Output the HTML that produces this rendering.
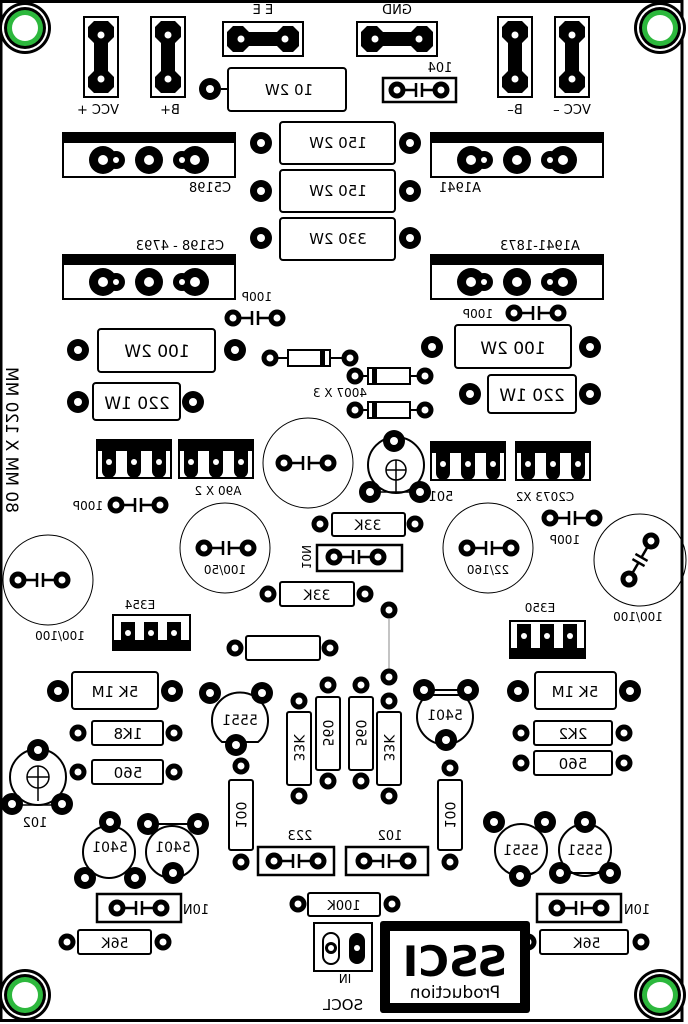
<!DOCTYPE html>
<html><head><meta charset="utf-8"><style>
html,body{margin:0;padding:0;background:#fff}
svg{display:block}
text{font-family:"DejaVu Sans","Liberation Sans",sans-serif;fill:#000}
</style></head><body>
<svg width="688" height="1024" viewBox="0 0 688 1024" xmlns="http://www.w3.org/2000/svg">
<defs>
<g id="P"><circle r="11" fill="#000"/><circle r="4" fill="#fff"/></g>
<g id="p"><circle r="8.5" fill="#000"/><circle r="3.5" fill="#fff"/></g>
<g id="H"><circle r="26" fill="#000"/><circle r="23" fill="#fff"/><circle r="21" fill="#000"/><circle r="18" fill="#2db83d"/><circle r="13" fill="#fff"/></g>
<g id="T"><rect x="-37" y="-19" width="74" height="38" fill="#fff" stroke="#000" stroke-width="2"/><rect x="-37" y="-19" width="74" height="11" fill="#000"/>
<path d="M-32,-10h14v22a7,7 0 0 1 -14,0z M-7,-10h14v22a7,7 0 0 1 -14,0z M18,-10h14v22a7,7 0 0 1 -14,0z" fill="#000"/>
<circle cx="-25" cy="3" r="3" fill="#fff"/><circle cx="0" cy="3" r="3" fill="#fff"/><circle cx="25" cy="3" r="3" fill="#fff"/></g>
<g id="J"><rect x="-17" y="-40" width="34" height="80" fill="#fff" stroke="#000" stroke-width="2"/><path d="M-13,-30 l6,-6 h14 l6,6 v10 l-6,6 v28 l6,6 v10 l-6,6 h-14 l-6,-6 v-10 l6,-6 v-28 l-6,-6z" fill="#000"/><circle cy="-22" r="3.5" fill="#fff"/><circle cy="22" r="3.5" fill="#fff"/></g>
<g id="JH"><rect x="-40" y="-17" width="80" height="34" fill="#fff" stroke="#000" stroke-width="2"/><path d="M-30,-13 l-6,6 v14 l6,6 h10 l6,-6 h28 l6,6 h10 l6,-6 v-14 l-6,-6 h-10 l-6,6 h-28 l-6,-6z" fill="#000"/><circle cx="-22" r="3.5" fill="#fff"/><circle cx="22" r="3.5" fill="#fff"/></g>
<g id="TO"><rect x="-86" y="-22" width="172" height="44" fill="#fff" stroke="#000" stroke-width="2"/><rect x="-86" y="-22" width="172" height="10" fill="#000"/>
<circle cx="-46" cy="5" r="14" fill="#000"/><circle cx="-33" cy="5" r="9" fill="#000"/><circle cx="-46" cy="5" r="5" fill="#fff"/><circle cx="-33" cy="5" r="3" fill="#fff"/>
<circle cx="0" cy="5" r="14" fill="#000"/><circle cx="0" cy="5" r="5" fill="#fff"/>
<circle cx="46" cy="5" r="14" fill="#000"/><circle cx="33" cy="5" r="9" fill="#000"/><circle cx="46" cy="5" r="5" fill="#fff"/><circle cx="33" cy="5" r="3" fill="#fff"/></g>
<g id="C"><use href="#p" x="-22"/><use href="#p" x="22"/><path d="M-14,0h11M3,0h11M-3,-7v14M3,-7v14" stroke="#000" stroke-width="2.5" fill="none"/></g>
</defs>

<rect x="1" y="1.5" width="681" height="1019" fill="none" stroke="#000" stroke-width="3"/>

<use href="#H" x="25" y="28"/><use href="#H" x="660" y="28"/><use href="#H" x="25" y="995"/><use href="#H" x="660" y="995"/>

<use href="#J" x="101" y="57"/><use href="#J" x="168" y="57"/><use href="#J" x="515" y="57"/><use href="#J" x="572" y="57"/>
<use href="#JH" x="263" y="39"/><use href="#JH" x="397" y="39"/>
<g font-size="13" text-anchor="middle">
<g transform="translate(98,114) scale(-1,1)"><text>VCC +</text></g>
<g transform="translate(170,114) scale(-1,1)"><text>B+</text></g>
<g transform="translate(515,114) scale(-1,1)"><text>B–</text></g>
<g transform="translate(572,114) scale(-1,1)"><text>VCC –</text></g>
<g transform="translate(263,14) scale(-1,1)"><text>E E</text></g>
<g transform="translate(397,14) scale(-1,1)"><text>GND</text></g>
<g transform="translate(440,72) scale(-1,1)"><text>104</text></g>
</g>

<use href="#P" x="210" y="89"/><path d="M221,89h7" stroke="#000" stroke-width="2"/>
<rect x="228" y="68" width="118" height="43" rx="3" fill="#fff" stroke="#000" stroke-width="2"/>
<g font-size="15" text-anchor="middle" transform="translate(289,95) scale(-1,1)"><text>10 2W</text></g>
<rect x="383" y="78" width="73" height="24" fill="#fff" stroke="#000" stroke-width="2.5"/>
<use href="#C" x="419" y="90"/>

<use href="#TO" x="149" y="155"/><use href="#TO" x="517" y="155"/>
<use href="#TO" x="149" y="277"/><use href="#TO" x="517" y="277"/>
<g font-size="13" text-anchor="middle">
<g transform="translate(210,192) scale(-1,1)"><text>C5198</text></g>
<g transform="translate(460,192) scale(-1,1)"><text>A1941</text></g>
<g transform="translate(180,250) scale(-1,1)"><text>C5198 - 4793</text></g>
<g transform="translate(540,250) scale(-1,1)"><text>A1941-1873</text></g>
</g>

<use href="#P" x="261" y="143"/><use href="#P" x="410" y="143"/>
<rect x="280" y="122" width="115" height="42" rx="3" fill="#fff" stroke="#000" stroke-width="2"/>
<use href="#P" x="261" y="191"/><use href="#P" x="410" y="191"/>
<rect x="280" y="170" width="115" height="42" rx="3" fill="#fff" stroke="#000" stroke-width="2"/>
<use href="#P" x="261" y="238"/><use href="#P" x="410" y="238"/>
<rect x="280" y="218" width="115" height="42" rx="3" fill="#fff" stroke="#000" stroke-width="2"/>
<g font-size="15" text-anchor="middle">
<g transform="translate(338,148) scale(-1,1)"><text>150 2W</text></g>
<g transform="translate(338,196) scale(-1,1)"><text>150 2W</text></g>
<g transform="translate(338,244) scale(-1,1)"><text>330 2W</text></g>
</g>

<g font-size="12" text-anchor="middle">
<use href="#C" x="255" y="318"/><g transform="translate(257,301) scale(-1,1)"><text>100P</text></g>
<use href="#C" x="536" y="313"/><g transform="translate(478,318) scale(-1,1)"><text>100P</text></g>
<use href="#C" x="138" y="505"/><g transform="translate(88,510) scale(-1,1)"><text>100P</text></g>
<use href="#C" x="572" y="518"/><g transform="translate(565,544) scale(-1,1)"><text>100P</text></g>
</g>

<use href="#P" x="78" y="350"/><use href="#P" x="235" y="350"/>
<rect x="98" y="329" width="117" height="43" rx="3" fill="#fff" stroke="#000" stroke-width="2"/>
<g font-size="17" text-anchor="middle" transform="translate(157,357) scale(-1,1)"><text>100 2W</text></g>
<use href="#P" x="432" y="347"/><use href="#P" x="590" y="347"/>
<rect x="455" y="325" width="116" height="43" rx="3" fill="#fff" stroke="#000" stroke-width="2"/>
<g font-size="17" text-anchor="middle" transform="translate(513,354) scale(-1,1)"><text>100 2W</text></g>
<use href="#P" x="78" y="402"/><use href="#P" x="193" y="402"/>
<rect x="93" y="383" width="87" height="37" rx="3" fill="#fff" stroke="#000" stroke-width="2"/>
<g font-size="17" text-anchor="middle" transform="translate(137,409) scale(-1,1)"><text>220 1W</text></g>
<use href="#P" x="470" y="394"/><use href="#P" x="590" y="394"/>
<rect x="488" y="375" width="88" height="38" rx="3" fill="#fff" stroke="#000" stroke-width="2"/>
<g font-size="17" text-anchor="middle" transform="translate(532,401) scale(-1,1)"><text>220 1W</text></g>

<g stroke="#000" stroke-width="2" fill="#fff">
<path d="M270,358h80M355,376h70M355,410h70"/>
<rect x="288" y="350" width="42" height="16"/><rect x="368" y="368" width="42" height="16"/><rect x="368" y="402" width="42" height="16"/>
</g>
<rect x="320" y="350" width="5" height="16" fill="#000"/><rect x="372" y="368" width="5" height="16" fill="#000"/><rect x="372" y="402" width="5" height="16" fill="#000"/>
<use href="#p" x="270" y="358"/><use href="#p" x="350" y="358"/><use href="#p" x="355" y="376"/><use href="#p" x="425" y="376"/><use href="#p" x="355" y="410"/><use href="#p" x="425" y="410"/>
<g font-size="12" text-anchor="middle" transform="translate(340,397) scale(-1,1)"><text>4007 X 3</text></g>

<g font-size="17" text-anchor="middle" transform="translate(6,440) rotate(90) scale(-1,1)"><text>80 MM X 120 MM</text></g>

<use href="#T" x="134" y="459"/><use href="#T" x="216" y="459"/><use href="#T" x="468" y="461"/><use href="#T" x="553" y="461"/>
<g font-size="12" text-anchor="middle">
<g transform="translate(218,495) scale(-1,1)"><text>A90 X 2</text></g>
<g transform="translate(545,501) scale(-1,1)"><text>C2073 X2</text></g>
</g>

<g fill="none" stroke="#000" stroke-width="1">
<circle cx="308" cy="463" r="45"/><circle cx="225" cy="548" r="45"/><circle cx="488" cy="548" r="45"/><circle cx="48" cy="580" r="45"/><circle cx="640" cy="560" r="46"/>
</g>
<use href="#C" x="306" y="463"/><use href="#C" x="226" y="548"/><use href="#C" x="489" y="548"/><use href="#C" x="40" y="580"/>
<g transform="translate(640,560) rotate(-60)"><use href="#C" x="0" y="0"/></g>
<g font-size="12" text-anchor="middle">
<g transform="translate(225,574) scale(-1,1)"><text>100/50</text></g>
<g transform="translate(488,574) scale(-1,1)"><text>22/160</text></g>
<g transform="translate(60,640) scale(-1,1)"><text>100/100</text></g>
<g transform="translate(638,621) scale(-1,1)"><text>100/100</text></g>
</g>

<circle cx="396" cy="465" r="28" fill="none" stroke="#000" stroke-width="2"/>
<circle cx="396" cy="470" r="10" fill="none" stroke="#000" stroke-width="1.5"/>
<path d="M386,470h20M396,460v32M372,492h48" stroke="#000" stroke-width="1.5"/>
<use href="#P" x="394" y="441"/><use href="#P" x="370" y="492"/><use href="#P" x="420" y="492"/>
<g font-size="13" text-anchor="middle" transform="translate(441,501) scale(-1,1)"><text>501</text></g>

<use href="#p" x="320" y="524"/><use href="#p" x="415" y="524"/>
<rect x="332" y="513" width="73" height="23" rx="2" fill="#fff" stroke="#000" stroke-width="2"/>
<g font-size="14" text-anchor="middle" transform="translate(368,530) scale(-1,1)"><text>33K</text></g>
<rect x="317" y="545" width="85" height="26" fill="#fff" stroke="#000" stroke-width="2.5"/>
<use href="#C" x="356" y="557"/>
<g font-size="12" text-anchor="middle" transform="translate(302,557) rotate(90) scale(-1,1)"><text>10N</text></g>
<use href="#p" x="268" y="594"/><use href="#p" x="365" y="594"/>
<rect x="280" y="582" width="74" height="24" rx="2" fill="#fff" stroke="#000" stroke-width="2"/>
<g font-size="14" text-anchor="middle" transform="translate(317,600) scale(-1,1)"><text>33K</text></g>
<use href="#p" x="389" y="610"/><path d="M389,618V675" stroke="#888" stroke-width="1"/>
<use href="#p" x="235" y="648"/><use href="#p" x="330" y="648"/>
<rect x="246" y="636" width="74" height="24" rx="2" fill="#fff" stroke="#000" stroke-width="2"/>

<g font-size="12" text-anchor="middle">
<g transform="translate(140,609) scale(-1,1)"><text>E354</text></g>
<g transform="translate(540,612) scale(-1,1)"><text>E350</text></g>
</g>
<rect x="113" y="615" width="77" height="35" fill="#fff" stroke="#000" stroke-width="2"/><rect x="113" y="640" width="77" height="10" fill="#000"/>
<path d="M121,622h14v26h-14z M144,622h14v26h-14z M167,622h14v26h-14z" fill="#000"/><circle cx="128" cy="633" r="3" fill="#fff"/><circle cx="151" cy="633" r="3" fill="#fff"/><circle cx="174" cy="633" r="3" fill="#fff"/>
<rect x="510" y="621" width="75" height="37" fill="#fff" stroke="#000" stroke-width="2"/><rect x="510" y="648" width="75" height="10" fill="#000"/>
<path d="M517,624h14v28h-14z M540,624h14v28h-14z M563,624h14v28h-14z" fill="#000"/><circle cx="524" cy="636" r="3" fill="#fff"/><circle cx="547" cy="636" r="3" fill="#fff"/><circle cx="570" cy="636" r="3" fill="#fff"/>

<use href="#P" x="58" y="691"/><use href="#P" x="172" y="691"/>
<rect x="72" y="672" width="86" height="37" rx="3" fill="#fff" stroke="#000" stroke-width="2"/>
<g font-size="15" text-anchor="middle" transform="translate(115,697) scale(-1,1)"><text>5K 1M</text></g>
<use href="#P" x="518" y="691"/><use href="#P" x="630" y="691"/>
<rect x="535" y="672" width="81" height="37" rx="3" fill="#fff" stroke="#000" stroke-width="2"/>
<g font-size="15" text-anchor="middle" transform="translate(575,697) scale(-1,1)"><text>5K 1M</text></g>
<use href="#p" x="78" y="733"/><use href="#p" x="174" y="733"/>
<rect x="92" y="721" width="71" height="24" rx="2" fill="#fff" stroke="#000" stroke-width="2"/>
<g font-size="15" text-anchor="middle" transform="translate(128,739) scale(-1,1)"><text>1K8</text></g>
<use href="#p" x="78" y="772"/><use href="#p" x="174" y="772"/>
<rect x="92" y="760" width="71" height="24" rx="2" fill="#fff" stroke="#000" stroke-width="2"/>
<g font-size="15" text-anchor="middle" transform="translate(128,778) scale(-1,1)"><text>560</text></g>
<use href="#p" x="521" y="733"/><use href="#p" x="624" y="733"/>
<rect x="534" y="721" width="78" height="24" rx="2" fill="#fff" stroke="#000" stroke-width="2"/>
<g font-size="15" text-anchor="middle" transform="translate(573,739) scale(-1,1)"><text>2K2</text></g>
<use href="#p" x="521" y="763"/><use href="#p" x="624" y="763"/>
<rect x="534" y="751" width="78" height="24" rx="2" fill="#fff" stroke="#000" stroke-width="2"/>
<g font-size="15" text-anchor="middle" transform="translate(573,769) scale(-1,1)"><text>560</text></g>

<circle cx="38" cy="777" r="28" fill="none" stroke="#000" stroke-width="2"/>
<circle cx="38" cy="777" r="11" fill="none" stroke="#000" stroke-width="1.5"/>
<path d="M27,777h22M38,766v35M12,805h50" stroke="#000" stroke-width="1.5"/>
<use href="#P" x="38" y="750"/><use href="#P" x="12" y="804"/><use href="#P" x="62" y="804"/>
<g font-size="13" text-anchor="middle" transform="translate(35,827) scale(-1,1)"><text>102</text></g>

<g fill="none" stroke="#000" stroke-width="2">
<path d="M222,742 A28,28 0 1 1 258,742 Z"/>
<path d="M427,735 A28,28 0 1 1 463,735 Z" transform="rotate(180 445 715)"/>
<circle cx="109" cy="852" r="26"/><circle cx="172" cy="852" r="26"/>
<circle cx="521" cy="850" r="26"/><circle cx="585" cy="850" r="26"/>
<path d="M433,690h36M148,824h50M560,873h50"/>
</g>
<use href="#P" x="210" y="693"/><use href="#P" x="262" y="693"/><use href="#P" x="236" y="745"/>
<use href="#P" x="424" y="690"/><use href="#P" x="468" y="690"/><use href="#P" x="446" y="740"/>
<use href="#P" x="110" y="822"/><use href="#P" x="85" y="878"/><use href="#P" x="135" y="878"/>
<use href="#P" x="148" y="824"/><use href="#P" x="198" y="824"/><use href="#P" x="173" y="873"/>
<use href="#P" x="494" y="822"/><use href="#P" x="545" y="822"/><use href="#P" x="520" y="876"/>
<use href="#P" x="585" y="822"/><use href="#P" x="560" y="873"/><use href="#P" x="610" y="873"/>
<g font-size="14" text-anchor="middle">
<g transform="translate(240,725) scale(-1,1)"><text>5551</text></g>
<g transform="translate(445,720) scale(-1,1)"><text>5401</text></g>
<g transform="translate(110,852) scale(-1,1)"><text>5401</text></g>
<g transform="translate(173,852) scale(-1,1)"><text>5401</text></g>
<g transform="translate(521,855) scale(-1,1)"><text>5551</text></g>
<g transform="translate(585,855) scale(-1,1)"><text>5551</text></g>
</g>

<g fill="#fff" stroke="#000" stroke-width="2">
<rect x="287" y="712" width="24" height="73" rx="2"/>
<rect x="316" y="697" width="24" height="73" rx="2"/>
<rect x="349" y="697" width="24" height="73" rx="2"/>
<rect x="377" y="712" width="24" height="73" rx="2"/>
<rect x="229" y="780" width="24" height="70" rx="2"/>
<rect x="438" y="780" width="24" height="70" rx="2"/>
</g>
<use href="#p" x="299" y="701"/><use href="#p" x="299" y="796"/>
<use href="#p" x="328" y="685"/><use href="#p" x="328" y="781"/>
<use href="#p" x="361" y="685"/><use href="#p" x="361" y="781"/>
<use href="#p" x="389" y="677"/><use href="#p" x="389" y="701"/><use href="#p" x="389" y="796"/>
<use href="#p" x="241" y="766"/><use href="#p" x="241" y="862"/>
<use href="#p" x="450" y="768"/><use href="#p" x="450" y="862"/>
<g font-size="14" text-anchor="middle">
<g transform="translate(294,748) rotate(90) scale(-1,1)"><text>33K</text></g>
<g transform="translate(323,733) rotate(90) scale(-1,1)"><text>560</text></g>
<g transform="translate(356,733) rotate(90) scale(-1,1)"><text>560</text></g>
<g transform="translate(384,748) rotate(90) scale(-1,1)"><text>33K</text></g>
<g transform="translate(236,815) rotate(90) scale(-1,1)"><text>100</text></g>
<g transform="translate(445,815) rotate(90) scale(-1,1)"><text>100</text></g>
</g>

<rect x="258" y="847" width="76" height="28" fill="#fff" stroke="#000" stroke-width="2.5"/><use href="#C" x="296" y="861"/>
<rect x="346" y="847" width="82" height="28" fill="#fff" stroke="#000" stroke-width="2.5"/><use href="#C" x="386" y="861"/>
<g font-size="13" text-anchor="middle">
<g transform="translate(300,840) scale(-1,1)"><text>223</text></g>
<g transform="translate(390,840) scale(-1,1)"><text>102</text></g>
</g>

<rect x="97" y="894" width="84" height="28" fill="#fff" stroke="#000" stroke-width="2.5"/><use href="#C" x="139" y="908"/>
<rect x="537" y="894" width="84" height="28" fill="#fff" stroke="#000" stroke-width="2.5"/><use href="#C" x="579" y="908"/>
<g font-size="13" text-anchor="middle">
<g transform="translate(196,914) scale(-1,1)"><text>10N</text></g>
<g transform="translate(637,914) scale(-1,1)"><text>10N</text></g>
</g>

<use href="#p" x="298" y="904"/><use href="#p" x="392" y="904"/>
<rect x="308" y="893" width="72" height="23" rx="2" fill="#fff" stroke="#000" stroke-width="2"/>
<g font-size="13" text-anchor="middle" transform="translate(344,910) scale(-1,1)"><text>100K</text></g>
<use href="#p" x="67" y="942"/><use href="#p" x="163" y="942"/>
<rect x="78" y="930" width="73" height="24" rx="2" fill="#fff" stroke="#000" stroke-width="2"/>
<g font-size="14" text-anchor="middle" transform="translate(115,948) scale(-1,1)"><text>56K</text></g>
<use href="#p" x="528" y="942"/><use href="#p" x="641" y="942"/>
<rect x="540" y="930" width="88" height="24" rx="2" fill="#fff" stroke="#000" stroke-width="2"/>
<g font-size="14" text-anchor="middle" transform="translate(587,948) scale(-1,1)"><text>56K</text></g>

<rect x="314" y="923" width="58" height="48" fill="#fff" stroke="#000" stroke-width="2"/>
<rect x="323" y="933" width="16" height="31" rx="8" fill="#fff" stroke="#000" stroke-width="2"/>
<circle cx="331" cy="948" r="6" fill="#000"/><circle cx="331" cy="948" r="3" fill="#fff"/>
<rect x="349" y="933" width="16" height="31" rx="8" fill="#000"/><circle cx="357" cy="948" r="3" fill="#fff"/>
<g font-size="12" text-anchor="middle" transform="translate(345,983) scale(-1,1)"><text>IN</text></g>
<g font-size="15" text-anchor="middle" transform="translate(343,1010) scale(-1,1)"><text>SOCL</text></g>

<rect x="380" y="921" width="150" height="92" rx="3" fill="#000"/>
<rect x="390" y="931" width="130" height="72" fill="#fff"/>
<g transform="translate(455,976) scale(-1.1,1.1)"><text font-size="38" font-weight="bold" text-anchor="middle" style="font-family:'DejaVu Sans','Liberation Sans',sans-serif">SSCI</text></g>
<g font-size="17" text-anchor="middle" transform="translate(455,998) scale(-1,1)"><text>Production</text></g>
</svg>
</body></html>
